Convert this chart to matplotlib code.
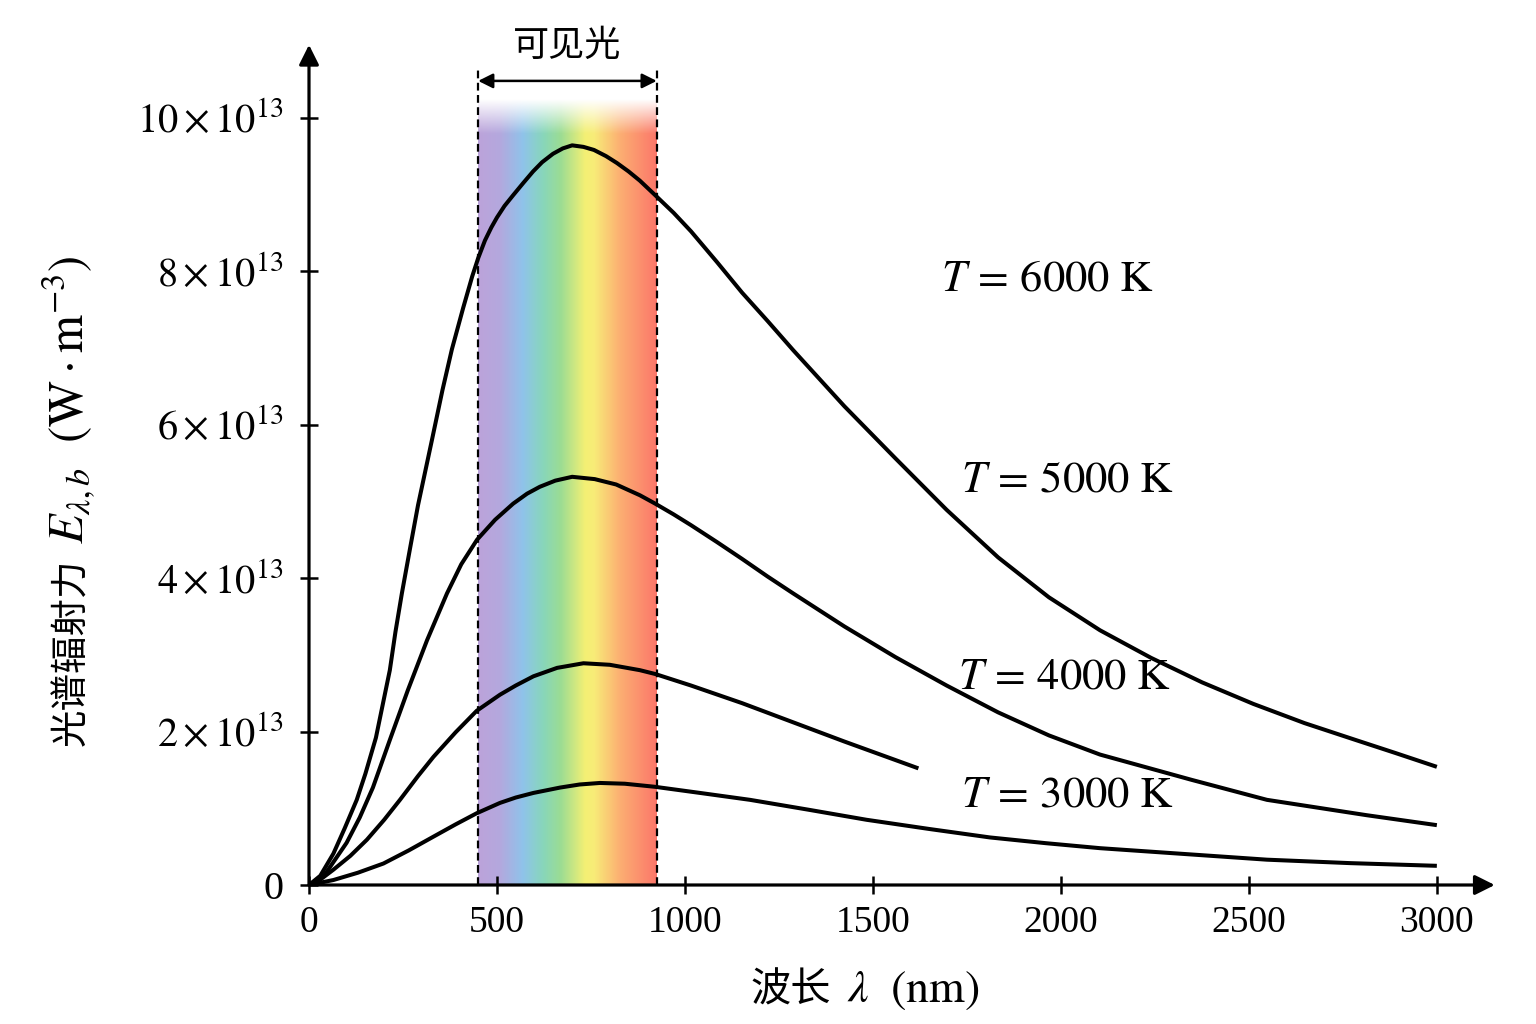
import numpy as np
import matplotlib
matplotlib.use('Agg')
import matplotlib.pyplot as plt
from matplotlib.colors import LinearSegmentedColormap

plt.rcParams['font.family'] = ['Liberation Serif', 'Noto Sans CJK SC']
plt.rcParams['mathtext.fontset'] = 'stix'

# wavelength (nm) and spectral emissive power (in units of 1e13 W/m^3)
wl_6000 = [0, 30, 65, 95, 127, 150, 178, 215, 230, 247, 270, 290, 327, 355, 380, 410, 434, 450, 468, 485,
           500, 520, 543, 570, 596, 620, 649, 675, 700, 730, 758, 790, 819, 850, 880, 921, 970, 1016,
           1085, 1152, 1220, 1288, 1424, 1560, 1696, 1833, 1968, 2104, 2240, 2376, 2512, 2648, 2784,
           2890, 3000]
e_6000 = [0, 0.12, 0.41, 0.74, 1.11, 1.45, 1.92, 2.80, 3.30, 3.80, 4.42, 4.95, 5.80, 6.45, 6.98, 7.52,
          7.93, 8.17, 8.40, 8.57, 8.70, 8.85, 8.99, 9.15, 9.30, 9.42, 9.53, 9.60, 9.64, 9.62, 9.58, 9.50,
          9.41, 9.30, 9.18, 8.99, 8.76, 8.52, 8.12, 7.72, 7.35, 6.97, 6.24, 5.56, 4.89, 4.27, 3.75, 3.32,
          2.96, 2.64, 2.36, 2.11, 1.89, 1.72, 1.54]

wl_5000 = [0, 40, 100, 135, 170, 215, 263, 314, 367, 405, 447, 495, 543, 580, 614, 655, 700, 760, 817,
           880, 921, 970, 1016, 1085, 1152, 1220, 1288, 1424, 1560, 1696, 1833, 1968, 2104, 2348, 2548,
           2813, 3000]
e_5000 = [0, 0.12, 0.55, 0.88, 1.27, 1.89, 2.54, 3.19, 3.80, 4.18, 4.50, 4.76, 4.97, 5.10, 5.19, 5.27,
          5.32, 5.29, 5.22, 5.08, 4.97, 4.83, 4.69, 4.47, 4.25, 4.02, 3.80, 3.37, 2.97, 2.60, 2.25, 1.95,
          1.70, 1.37, 1.11, 0.91, 0.78]

wl_4000 = [0, 30, 65, 110, 154, 200, 242, 290, 331, 390, 446, 508, 550, 597, 660, 730, 800, 880, 921,
           1016, 1152, 1288, 1424, 1621]
e_4000 = [0, 0.07, 0.20, 0.38, 0.59, 0.85, 1.11, 1.42, 1.67, 1.99, 2.27, 2.48, 2.60, 2.72, 2.83, 2.89,
          2.87, 2.80, 2.75, 2.60, 2.37, 2.12, 1.87, 1.52]

wl_3000 = [0, 65, 130, 198, 265, 331, 390, 446, 508, 550, 597, 668, 720, 774, 840, 920, 1040, 1173,
           1330, 1483, 1650, 1811, 1960, 2104, 2548, 2770, 3000]
e_3000 = [0, 0.065, 0.16, 0.28, 0.45, 0.63, 0.79, 0.935, 1.07, 1.14, 1.20, 1.27, 1.31, 1.33, 1.32, 1.28,
          1.20, 1.11, 0.98, 0.85, 0.73, 0.62, 0.545, 0.48, 0.33, 0.285, 0.25]

curve_labels = [r'$T\,=\,6000\ \mathrm{K}$', r'$T\,=\,5000\ \mathrm{K}$',
                r'$T\,=\,4000\ \mathrm{K}$', r'$T\,=\,3000\ \mathrm{K}$']
label_pos = [(1680, 7.89), (1733, 5.27), (1725, 2.71), (1733, 1.17)]

visible = (450, 925)
xticks = [0, 500, 1000, 1500, 2000, 2500, 3000]
yticks = [0, 2, 4, 6, 8, 10]
ytick_labels = ['0', r'$2\times10^{13}$', r'$4\times10^{13}$', r'$6\times10^{13}$',
                r'$8\times10^{13}$', r'$10\times10^{13}$']

fig = plt.figure(figsize=(15.36, 10.24), dpi=100)
ax = fig.add_axes([309 / 1536, 139 / 1024, 1188 / 1536, 844 / 1024])

# rainbow band for visible light, fading out at the top
spec = LinearSegmentedColormap.from_list('vis', [
    (0.0, '#bca3da'), (0.12, '#b4a8de'), (0.25, '#8fc3ea'), (0.36, '#88d6bc'),
    (0.46, '#9adc94'), (0.6, '#f4f074'), (0.65, '#f8ec78'), (0.8, '#fcad72'), (1.0, '#fb776a')])
nx, ny = 400, 300
rgba = spec(np.linspace(0, 1, nx))[None, :, :].repeat(ny, axis=0)
band_top = 10.25
yy = np.linspace(0, band_top, ny)
rgba[:, :, 3] = np.clip((band_top - yy) / 0.45, 0, 1)[:, None]
ax.imshow(rgba, extent=[visible[0], visible[1], 0, band_top], origin='lower',
          aspect='auto', interpolation='bilinear', zorder=0)

for xv in visible:
    ax.plot([xv, xv], [0, 10.63], color='k', lw=1.6, dashes=(3.5, 2), clip_on=False, zorder=2)

ax.annotate('', xy=(visible[0], 10.48), xytext=(visible[1], 10.48),
            arrowprops=dict(arrowstyle='<|-|>', lw=1.8, color='k', mutation_scale=22,
                            shrinkA=0, shrinkB=0), annotation_clip=False)
ax.text(sum(visible) / 2, 10.93, '可见光', ha='center', va='center', fontsize=26,
        family='Noto Sans CJK SC')

for wl, e in [(wl_6000, e_6000), (wl_5000, e_5000), (wl_4000, e_4000), (wl_3000, e_3000)]:
    ax.plot(wl, e, color='k', lw=2.9, solid_capstyle='butt', solid_joinstyle='round', zorder=3)

for txt, (tx, ty) in zip(curve_labels, label_pos):
    ax.text(tx, ty, txt, fontsize=32, ha='left', va='center')

ax.set_xlim(0, 3160)
ax.set_ylim(0, 11.0)
for s in ax.spines.values():
    s.set_visible(False)

# axes with arrow heads
arrow = dict(arrowstyle='-|>', lw=2.3, color='k', mutation_scale=30, shrinkA=0, shrinkB=0)
ax.annotate('', xy=(3154, 0), xytext=(0, 0), arrowprops=arrow, annotation_clip=False)
ax.annotate('', xy=(0, 10.95), xytext=(0, 0), arrowprops=arrow, annotation_clip=False)

ax.set_xticks(xticks)
ax.set_xticklabels([str(v) for v in xticks], fontsize=27)
ax.set_yticks(yticks)
ax.set_yticklabels(ytick_labels, fontsize=29)
ax.tick_params(axis='x', direction='inout', length=13, width=1.8, pad=8)
ax.tick_params(axis='y', direction='inout', length=13, width=1.8, pad=12)

# axis titles (Chinese part and math part drawn separately)
fig.text(831 / 1536, 1 - 1002 / 1024, '波长', fontsize=29, ha='right', va='baseline',
         family='Noto Sans CJK SC')
fig.text(847 / 1536, 1 - 1002 / 1024, r'$\lambda\ \ (\mathrm{nm})$', fontsize=33, ha='left', va='baseline')

fig.text(82 / 1536, 1 - 558 / 1024, '光谱辐射力', fontsize=27, rotation=90, rotation_mode='anchor',
         ha='right', va='baseline', family='Noto Sans CJK SC')
fig.text(84 / 1536, 1 - 544 / 1024, r'$E_{\lambda,b}\ \ (\mathrm{W}\cdot\mathrm{m}^{-3})$', fontsize=35,
         rotation=90, rotation_mode='anchor', ha='left', va='baseline')

fig.savefig('out.png', dpi=100, facecolor='white')
